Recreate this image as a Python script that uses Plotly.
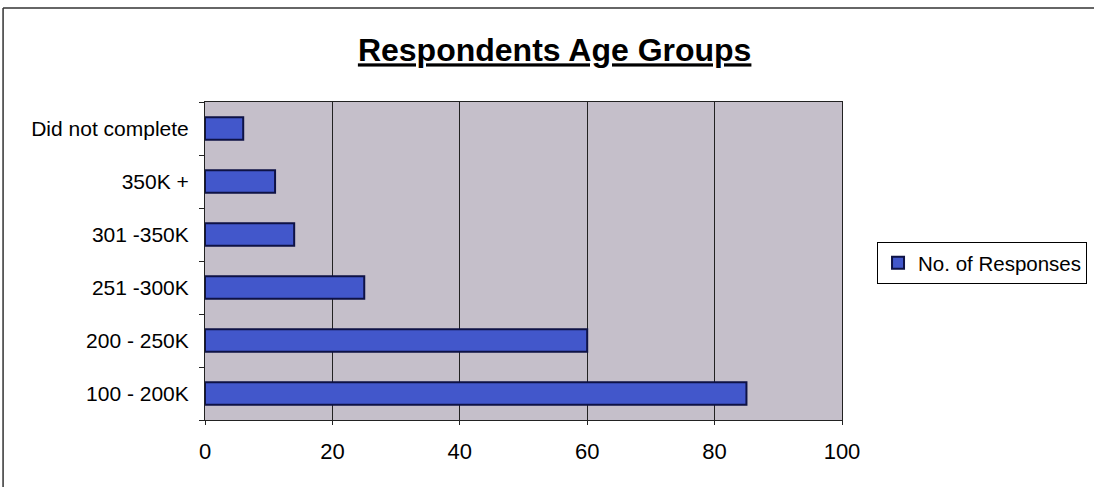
import plotly.graph_objects as go

# Income bands and number of responses per band
categories = ["100 - 200K", "200 - 250K", "251 -300K", "301 -350K", "350K +", "Did not complete"]
responses = [85, 60, 25, 14, 11, 6]
x_ticks = [0, 20, 40, 60, 80, 100]

FONT = "Liberation Sans, Arial, sans-serif"

fig = go.Figure()
fig.add_trace(go.Bar(
    y=categories,
    x=responses,
    orientation="h",
    name="No. of Responses",
    width=0.42,
    marker=dict(color="#4257CB", line=dict(color="#0E1245", width=2)),
))

fig.update_layout(
    width=1094,
    height=487,
    margin=dict(l=205, r=252, t=102, b=67, autoexpand=False),
    paper_bgcolor="white",
    plot_bgcolor="#C5BFCA",
    font=dict(family=FONT, size=21, color="black"),
    title=dict(
        text="<b><u>Respondents Age Groups</u></b>",
        x=0.507, xref="container", xanchor="center",
        y=0.897, yref="container", yanchor="middle",
        font=dict(family=FONT, size=32, color="black"),
    ),
    showlegend=True,
    legend=dict(
        x=1.055, xanchor="left",
        y=0.494, yanchor="middle",
        bordercolor="black", borderwidth=1,
        bgcolor="white",
        font=dict(family=FONT, size=20.5, color="black"),
        itemwidth=30,
    ),
    bargap=0.58,
)

fig.update_xaxes(
    range=[0, 100],
    tickvals=x_ticks,
    ticktext=[str(v) for v in x_ticks],
    showgrid=True, gridcolor="#222222", gridwidth=1,
    showline=True, linecolor="#222222", linewidth=1, mirror=True,
    ticks="outside", ticklen=4, tickcolor="#222222",
    tickfont=dict(size=22),
    zeroline=False,
    ticklabelstandoff=8,
)
fig.update_yaxes(
    type="category",
    categoryorder="array", categoryarray=categories,
    showgrid=False,
    showline=True, linecolor="#222222", linewidth=1, mirror=True,
    ticks="outside", ticklen=5, tickcolor="#222222",
    tickson="boundaries",
    ticklabelstandoff=11,
)

# Chart frame: top and left edges
frame = dict(type="line", xref="paper", yref="paper", line=dict(color="#333333", width=1.5))
fig.add_shape(x0=-0.317, x1=1.50, y0=1.2956, y1=1.2956, **frame)
fig.add_shape(x0=-0.317, x1=-0.317, y0=1.2956, y1=-0.22, **frame)

fig.write_html("out.html")
